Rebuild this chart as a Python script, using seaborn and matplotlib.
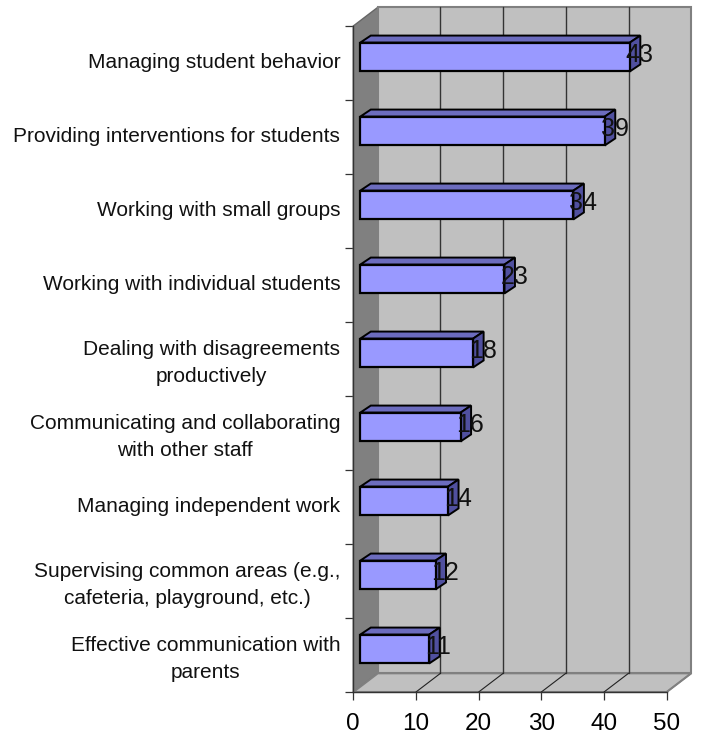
import matplotlib
matplotlib.use("Agg")
import matplotlib.pyplot as plt
import seaborn as sns
from matplotlib.patches import Polygon
from matplotlib.transforms import Affine2D

categories = [
    "Managing student behavior",
    "Providing interventions for students",
    "Working with small groups",
    "Working with individual students",
    "Dealing with disagreements\nproductively",
    "Communicating and collaborating\nwith other staff",
    "Managing independent work",
    "Supervising common areas (e.g.,\ncafeteria, playground, etc.)",
    "Effective communication with\nparents",
]
values = [43, 39, 34, 23, 18, 16, 14, 12, 11]
x_ticks = [0, 10, 20, 30, 40, 50]

W, H = 701, 736
# front plane of the fake 3D box, in pixels
LEFT, RIGHT, TOP, BOTTOM = 353.3, 666.7, 26.0, 692.0
WALL_DX, WALL_DY = 24.5, 18.7
BAR_DX, BAR_DY = 7.0, 6.0
DEPTH_X, DEPTH_Y = 10.5, 7.0

FRONT = "#9999FF"
TOP_FACE = "#6C6CBE"
SIDE_FACE = "#50509F"
WALL = "#C0C0C0"
DARK_WALL = "#808080"

sns.set_style("white")
plt.rcParams["font.family"] = ["Liberation Sans", "DejaVu Sans"]

fig = plt.figure(figsize=(W / 100, H / 100), dpi=100)
ax = fig.add_axes([LEFT / W, 1 - BOTTOM / H, (RIGHT - LEFT) / W, (BOTTOM - TOP) / H])
ax.patch.set_alpha(0)

sns.barplot(
    x=values, y=categories, orient="h", color=FRONT, saturation=1, width=0.39,
    edgecolor="black", linewidth=1.6, ax=ax, zorder=5,
)
ax.set_xlim(0, 50)
ax.set_ylim(8.5, -0.5)

ux = (RIGHT - LEFT) / 50  # px per x unit
uy = (BOTTOM - TOP) / 9  # px per category
wall_tf = ax.transData + Affine2D().translate(WALL_DX, WALL_DY)
bar_tf = ax.transData + Affine2D().translate(BAR_DX, BAR_DY)
wdx, wdy = WALL_DX / ux, WALL_DY / uy
ddx, ddy = DEPTH_X / ux, DEPTH_Y / uy

# box walls
ax.add_patch(Polygon([(0, -0.5), (wdx, -0.5 - wdy), (wdx, 8.5 - wdy), (0, 8.5)],
                     fc=DARK_WALL, ec="#666666", lw=1, clip_on=False, zorder=1))
ax.add_patch(Polygon([(0, -0.5), (50, -0.5), (50, 8.5), (0, 8.5)], transform=wall_tf,
                     fc=WALL, ec=DARK_WALL, lw=1.5, clip_on=False, zorder=1))
ax.add_patch(Polygon([(0, 8.5), (wdx, 8.5 - wdy), (50 + wdx, 8.5 - wdy), (50, 8.5)],
                     fc=WALL, ec=DARK_WALL, lw=1.5, clip_on=False, zorder=1))

# gridlines on the back wall and the floor
for t in x_ticks[1:-1]:
    ax.plot([t, t], [-0.5, 8.5], transform=wall_tf, color="#333333", lw=1,
            clip_on=False, zorder=2)
    ax.plot([t, t + wdx], [8.5, 8.5 - wdy], color="#222222", lw=0.8,
            clip_on=False, zorder=2)
ax.plot([50, 50 + wdx], [8.5, 8.5 - wdy], color=DARK_WALL, lw=1, clip_on=False, zorder=2)

# shift bars onto their own depth, then add top and side faces
for patch, val in zip(ax.containers[0], values):
    patch.set_transform(bar_tf)
    patch.set_clip_on(False)
    y0, y1 = patch.get_y(), patch.get_y() + patch.get_height()
    ax.add_patch(Polygon([(0, y0), (ddx, y0 - ddy), (val + ddx, y0 - ddy), (val, y0)],
                         transform=bar_tf, fc=TOP_FACE, ec="black", lw=1.4,
                         clip_on=False, zorder=4))
    ax.add_patch(Polygon([(val, y0), (val + ddx, y0 - ddy), (val + ddx, y1 - ddy), (val, y1)],
                         transform=bar_tf, fc=SIDE_FACE, ec="black", lw=1.4,
                         clip_on=False, zorder=4))

for i, val in enumerate(values):
    ax.annotate(str(val), xy=(val, i), xytext=(BAR_DX - 4, 8), textcoords="offset pixels",
                ha="left", va="center", fontsize=18, color="#111111",
                annotation_clip=False, zorder=6)

ax.set_xlabel("")
ax.set_ylabel("")
ax.set_xticks(x_ticks)
ax.set_yticks(range(len(categories)))
ax.set_yticklabels(categories, multialignment="center", linespacing=1.5)
ax.set_yticks([i - 0.5 for i in range(len(categories) + 1)], minor=True)
ax.tick_params(axis="y", which="major", length=0, pad=9.4, labelsize=15, labelcolor="#111111")
ax.tick_params(axis="y", which="minor", left=True, length=5.8, width=0.9, color="#333333")
ax.tick_params(axis="x", bottom=True, length=5.8, width=0.9, color="#333333", pad=9.5,
               labelsize=17.5, labelcolor="black")

# labels sit a little above the category centres
for label in ax.get_yticklabels():
    label.set_transform(label.get_transform() + Affine2D().translate(0, 2))

for side in ("top", "right"):
    ax.spines[side].set_visible(False)
for side in ("left", "bottom"):
    ax.spines[side].set_color("#333333")
    ax.spines[side].set_linewidth(1)
    ax.spines[side].set_zorder(3)

fig.savefig("out.png", dpi=100, facecolor="white")
